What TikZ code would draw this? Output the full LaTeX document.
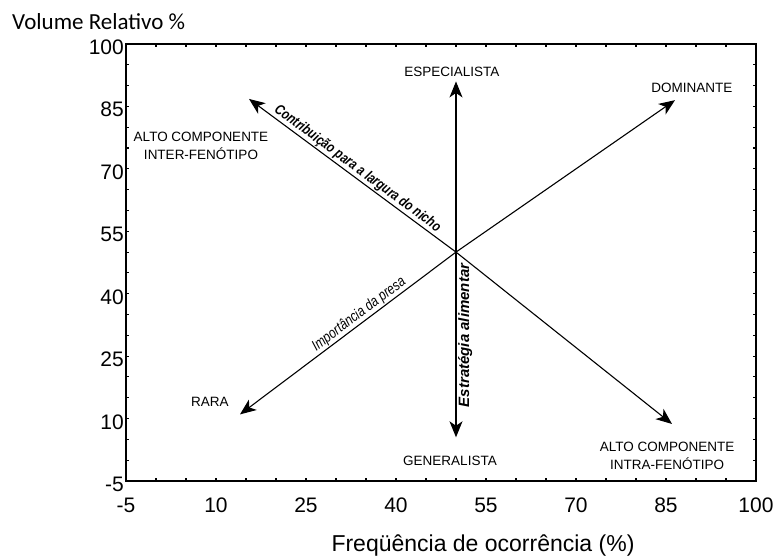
\documentclass[tikz,border=0pt]{standalone}
\usepackage{fontspec}
\setmainfont{Liberation Sans}
\newfontfamily\calib{Carlito}
\newfontfamily\estreita[FakeStretch=0.8]{Liberation Sans}
\usetikzlibrary{positioning,arrows.meta}

\begin{document}
\begin{tikzpicture}[
		x=6pt,y=4.1619pt,
		seta/.style={-{Stealth[length=16pt,width=13pt,inset=4.5pt]},line width=1.1pt},
		rotulo/.style={font=\fontsize{13.5}{18}\selectfont,align=center,inner sep=0pt},
		eixo/.style={font=\fontsize{21}{23}\selectfont,inner sep=0pt},
		marca/.style={line width=1.1pt},
		legenda/.style={font=\estreita\itshape\fontsize{15}{17}\selectfont,inner sep=1pt}
		]
		\useasboundingbox (-26,-23.26) rectangle (104,110.57);
		% moldura e marcas
		\draw[line width=1.4pt] (-5,-5) rectangle (100,100);
		\foreach \v in {0,5,...,95} {
			\draw[marca] (\v,-5) -- ++(0,3pt);
			\draw[marca] (\v,100) -- ++(0,-3pt);
			\draw[marca] (-5,\v) -- ++(3pt,0);
			\draw[marca] (100,\v) -- ++(-3pt,0);
		}
		\foreach \v in {-5,10,...,100} {
			\node[eixo,anchor=base] at ([yshift=-32pt]\v,-5) {\v};
			\node[eixo,anchor=base east] at ([xshift=-2pt,yshift=-10.5pt]-5,\v) {\v};
		}
		\node[font=\fontsize{23}{25}\selectfont,anchor=base,inner sep=0pt] (titx) at (54.5,-22.06) {Freqüência de ocorrência (\%)};
		\node[font=\calib\fontsize{23}{25}\selectfont,anchor=base west,inner sep=0pt] (tity) at (-24,103.6) {Volume Relativo \%};
		% centro e pontas
		\coordinate (c) at (50,50);
		\coordinate (cima) at (50,91);
		\coordinate (baixo) at (50,5.5);
		\coordinate (ne) at (86.5,86.5);
		\coordinate (no) at (15.5,86.8);
		\coordinate (so) at (14,11);
		\coordinate (se) at (86,8.7);
		\draw[seta] (c) -- (cima);
		\draw[seta] (c) -- (ne);
		\draw[seta] (c) -- (se);
		\draw[seta] (c) -- (baixo)
			node[pos=0.45,rotate=90,anchor=north,font=\bfseries\itshape\fontsize{15}{17}\selectfont,inner sep=1.5pt] {Estratégia alimentar};
		\draw[seta] (c) -- (no)
			node[pos=0.5,sloped,above,legenda,font=\estreita\bfseries\itshape\fontsize{14.5}{16}\selectfont] {Contribuição para a largura do nicho};
		\draw[seta] (c) -- (so)
			node[pos=0.425,sloped,above,legenda] {Importância da presa};
		% rotulos
		\node[rotulo] (esp) at (49.33,93.27) {ESPECIALISTA};
		\node[rotulo] (dom) at (89.33,89.43) {DOMINANTE};
		\node[rotulo] (inter) at (7.5,75.5) {ALTO COMPONENTE\\INTER-FENÓTIPO};
		\node[rotulo] (rara) at (9,13.98) {RARA};
		\node[rotulo] (gen) at (49,-0.2) {GENERALISTA};
		\node[rotulo] (intra) at (85.17,1.0) {ALTO COMPONENTE\\INTRA-FENÓTIPO};
	\end{tikzpicture}
\end{document}
